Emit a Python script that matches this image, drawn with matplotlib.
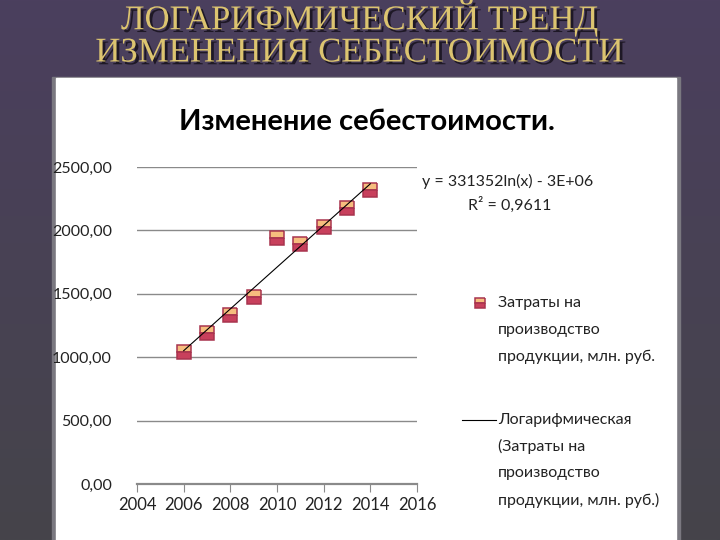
import numpy as np
import matplotlib.pyplot as plt
import matplotlib.patheffects as pe
from matplotlib.patches import Rectangle
from matplotlib.lines import Line2D

# Данные: затраты на производство продукции, млн. руб.
years = [2006, 2007, 2008, 2009, 2010, 2011, 2012, 2013, 2014]
costs = [1043, 1188, 1333, 1472, 1937, 1893, 2029, 2174, 2318]
y_ticks = [0, 500, 1000, 1500, 2000, 2500]
x_ticks = [2004, 2006, 2008, 2010, 2012, 2014, 2016]

W, H = 720, 540
fig = plt.figure(figsize=(7.2, 5.4), dpi=100)

# фон слайда: фиолетовый сверху, серый снизу
bg = fig.add_axes([0, 0, 1, 1], zorder=-10)
grad = np.linspace(0, 1, 256).reshape(-1, 1)
top = np.array([0x4b, 0x3f, 0x5e]) / 255
bottom = np.array([0x45, 0x44, 0x4a]) / 255
img = top + (bottom - top) * grad[..., None]
bg.imshow(img, aspect="auto", extent=[0, 1, 0, 1])
bg.set_xlim(0, 1)
bg.set_ylim(0, 1)
bg.axis("off")

# белая панель диаграммы
def px(x, y):
    return x / W, 1 - y / H

bg.add_patch(Rectangle(px(52, 545), 628 / W, 468 / H, color="#7a7880",
                       transform=bg.transAxes, zorder=1))
bg.add_patch(Rectangle(px(56, 545), 620 / W, 467 / H, color="white",
                       transform=bg.transAxes, zorder=2))

# заголовок слайда
shadow = [pe.withSimplePatchShadow(offset=(2, -2), shadow_rgbFace="#1a1420", alpha=0.9)]
for txt, yy in [("ЛОГАРИФМИЧЕСКИЙ ТРЕНД", 18), ("ИЗМЕНЕНИЯ СЕБЕСТОИМОСТИ", 53)]:
    fig.text(360 / W, 1 - yy / H, txt, ha="center", va="center",
             family="Liberation Serif", fontsize=25, color="#dcc470",
             path_effects=shadow)

# заголовок диаграммы
fig.text(367 / W, 1 - 122 / H, "Изменение себестоимости.", ha="center", va="center",
         family="Lato", fontweight="bold", fontsize=21, color="black")

ax = fig.add_axes([137 / W, 1 - 484 / H, 280 / W, 317 / H])
ax.set_xlim(2004, 2016)
ax.set_ylim(0, 2500)
ax.set_xticks(x_ticks)
ax.set_yticks(y_ticks)
ax.set_yticklabels([f"{v:.2f}".replace(".", ",") for v in y_ticks])
ax.grid(axis="y", color="#8a8a8a", linewidth=1)
ax.set_axisbelow(True)
for s in ["left", "right", "top"]:
    ax.spines[s].set_visible(False)
ax.spines["bottom"].set_color("#8a8a8a")
ax.spines["bottom"].set_linewidth(1.6)
ax.tick_params(axis="y", length=0, pad=18, labelsize=11.5, labelcolor="#222222")
ax.tick_params(axis="x", length=6, color="#8a8a8a", labelsize=12, labelcolor="#222222")
for lab in ax.get_xticklabels() + ax.get_yticklabels():
    lab.set_family("Lato")

marker_kw = dict(marker="s", fillstyle="top",
                 markerfacecolor="#f6bd7e", markerfacecoloralt="#c8405c",
                 markeredgecolor="#a8344e", markeredgewidth=1.1, linestyle="none")
ax.plot(years, costs, markersize=10, **marker_kw, zorder=3)

# логарифмический тренд
b, a = np.polyfit(np.log(years), costs, 1)
xt = np.linspace(years[0], years[-1], 100)
ax.plot(xt, b * np.log(xt) + a, color="black", linewidth=0.8, zorder=4)

# уравнение
fig.text(422 / W, 1 - 181 / H, "y = 331352ln(x) - 3E+06", ha="left", va="center",
         family="Lato", fontsize=11.5, color="#222222")
fig.text(510 / W, 1 - 205 / H, "R² = 0,9611", ha="center", va="center",
         family="Lato", fontsize=11.5, color="#222222")

# легенда
leg = fig.add_axes([0, 0, 1, 1], zorder=5)
leg.set_xlim(0, W)
leg.set_ylim(H, 0)
leg.axis("off")
leg.plot([480], [303], markersize=7.5, **marker_kw)
for i, t in enumerate(["Затраты на", "производство", "продукции, млн. руб."]):
    leg.text(498, 303 + 27 * i, t, ha="left", va="center", family="Lato",
             fontsize=11.5, color="#222222")
leg.add_line(Line2D([462, 496], [420, 420], color="black", linewidth=0.8))
for i, t in enumerate(["Логарифмическая", "(Затраты на", "производство", "продукции, млн. руб.)"]):
    leg.text(498, 420 + 26.7 * i, t, ha="left", va="center", family="Lato",
             fontsize=11.5, color="#222222")

fig.savefig("out.png", dpi=100)
